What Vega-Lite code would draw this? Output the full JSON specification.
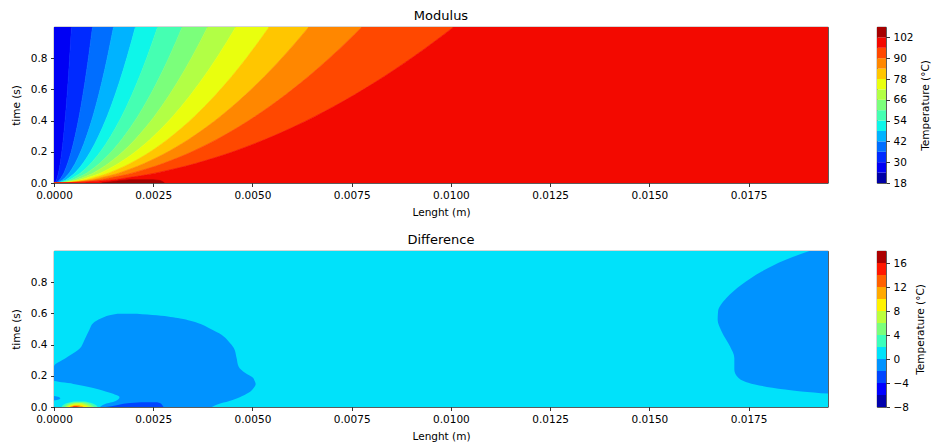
{
"$schema": "https://vega.github.io/schema/vega-lite/v6.json",
"padding": {"left": 10, "top": 9, "right": 0, "bottom": 0},
"autosize": {"type": "pad"},
"background": "white",
"config": {
  "font": "DejaVu Sans",
  "view": {"stroke": "#000", "strokeWidth": 0.8},
  "axis": {"domain": false, "grid": false, "tickColor": "#000", "tickSize": 3.5, "tickWidth": 0.8, "labelColor": "#000", "labelFontSize": 10.5, "labelPadding": 3.5, "labelFlush": false, "labelOverlap": false, "titleFontSize": 10.5, "titleFontWeight": "normal", "titleColor": "#000", "labelFont": "DejaVu Sans", "titleFont": "DejaVu Sans"},
  "title": {"fontSize": 13, "fontWeight": "normal", "color": "#000", "offset": 4, "font": "DejaVu Sans"}
},
"datasets": {
"mod": [
{"lo":24,"t":0,"a":0,"z":0},{"lo":24,"t":0.0025,"a":0,"z":0.000022},{"lo":24,"t":0.01,"a":0,"z":0.000044},{"lo":24,"t":0.04,"a":0,"z":0.000088},{"lo":24,"t":0.09,"a":0,"z":0.000132},{"lo":24,"t":0.16,"a":0,"z":0.000176},{"lo":24,"t":0.25,"a":0,"z":0.00022},{"lo":24,"t":0.36,"a":0,"z":0.000264},{"lo":24,"t":0.49,"a":0,"z":0.000308},{"lo":24,"t":0.64,"a":0,"z":0.000352},{"lo":24,"t":0.81,"a":0,"z":0.000396},{"lo":24,"t":0.999,"a":0,"z":0.00044},
{"lo":30,"t":0,"a":0,"z":0},{"lo":30,"t":0.0025,"a":0.000022,"z":0.0000485},{"lo":30,"t":0.01,"a":0.000044,"z":0.000097},{"lo":30,"t":0.04,"a":0.000088,"z":0.000194},{"lo":30,"t":0.09,"a":0.000132,"z":0.000291},{"lo":30,"t":0.16,"a":0.000176,"z":0.000388},{"lo":30,"t":0.25,"a":0.00022,"z":0.000485},{"lo":30,"t":0.36,"a":0.000264,"z":0.000582},{"lo":30,"t":0.49,"a":0.000308,"z":0.000679},{"lo":30,"t":0.64,"a":0.000352,"z":0.000776},{"lo":30,"t":0.81,"a":0.000396,"z":0.000873},{"lo":30,"t":0.999,"a":0.00044,"z":0.00097},
{"lo":36,"t":0,"a":0,"z":0},{"lo":36,"t":0.0025,"a":0.0000485,"z":0.000075},{"lo":36,"t":0.01,"a":0.000097,"z":0.00015},{"lo":36,"t":0.04,"a":0.000194,"z":0.0003},{"lo":36,"t":0.09,"a":0.000291,"z":0.00045},{"lo":36,"t":0.16,"a":0.000388,"z":0.0006},{"lo":36,"t":0.25,"a":0.000485,"z":0.00075},{"lo":36,"t":0.36,"a":0.000582,"z":0.0009},{"lo":36,"t":0.49,"a":0.000679,"z":0.00105},{"lo":36,"t":0.64,"a":0.000776,"z":0.0012},{"lo":36,"t":0.81,"a":0.000873,"z":0.00135},{"lo":36,"t":0.999,"a":0.00097,"z":0.0015},
{"lo":42,"t":0,"a":0,"z":0},{"lo":42,"t":0.0025,"a":0.000075,"z":0.0001025},{"lo":42,"t":0.01,"a":0.00015,"z":0.000205},{"lo":42,"t":0.04,"a":0.0003,"z":0.00041},{"lo":42,"t":0.09,"a":0.00045,"z":0.000615},{"lo":42,"t":0.16,"a":0.0006,"z":0.00082},{"lo":42,"t":0.25,"a":0.00075,"z":0.001025},{"lo":42,"t":0.36,"a":0.0009,"z":0.00123},{"lo":42,"t":0.49,"a":0.00105,"z":0.001435},{"lo":42,"t":0.64,"a":0.0012,"z":0.00164},{"lo":42,"t":0.81,"a":0.00135,"z":0.001845},{"lo":42,"t":0.999,"a":0.0015,"z":0.00205},
{"lo":48,"t":0,"a":0,"z":0},{"lo":48,"t":0.0025,"a":0.0001025,"z":0.0001305},{"lo":48,"t":0.01,"a":0.000205,"z":0.000261},{"lo":48,"t":0.04,"a":0.00041,"z":0.000522},{"lo":48,"t":0.09,"a":0.000615,"z":0.000783},{"lo":48,"t":0.16,"a":0.00082,"z":0.001044},{"lo":48,"t":0.25,"a":0.001025,"z":0.001305},{"lo":48,"t":0.36,"a":0.00123,"z":0.001566},{"lo":48,"t":0.49,"a":0.001435,"z":0.001827},{"lo":48,"t":0.64,"a":0.00164,"z":0.002088},{"lo":48,"t":0.81,"a":0.001845,"z":0.002349},{"lo":48,"t":0.999,"a":0.00205,"z":0.00261},
{"lo":54,"t":0,"a":0,"z":0},{"lo":54,"t":0.0025,"a":0.0001305,"z":0.0001615},{"lo":54,"t":0.01,"a":0.000261,"z":0.000323},{"lo":54,"t":0.04,"a":0.000522,"z":0.000646},{"lo":54,"t":0.09,"a":0.000783,"z":0.000969},{"lo":54,"t":0.16,"a":0.001044,"z":0.001292},{"lo":54,"t":0.25,"a":0.001305,"z":0.001615},{"lo":54,"t":0.36,"a":0.001566,"z":0.001938},{"lo":54,"t":0.49,"a":0.001827,"z":0.002261},{"lo":54,"t":0.64,"a":0.002088,"z":0.002584},{"lo":54,"t":0.81,"a":0.002349,"z":0.002907},{"lo":54,"t":0.999,"a":0.00261,"z":0.00323},
{"lo":60,"t":0,"a":0,"z":0},{"lo":60,"t":0.0025,"a":0.0001615,"z":0.0001935},{"lo":60,"t":0.01,"a":0.000323,"z":0.000387},{"lo":60,"t":0.04,"a":0.000646,"z":0.000774},{"lo":60,"t":0.09,"a":0.000969,"z":0.001161},{"lo":60,"t":0.16,"a":0.001292,"z":0.001548},{"lo":60,"t":0.25,"a":0.001615,"z":0.001935},{"lo":60,"t":0.36,"a":0.001938,"z":0.002322},{"lo":60,"t":0.49,"a":0.002261,"z":0.002709},{"lo":60,"t":0.64,"a":0.002584,"z":0.003096},{"lo":60,"t":0.81,"a":0.002907,"z":0.003483},{"lo":60,"t":0.999,"a":0.00323,"z":0.00387},
{"lo":66,"t":0,"a":0,"z":0},{"lo":66,"t":0.0025,"a":0.0001935,"z":0.000229},{"lo":66,"t":0.01,"a":0.000387,"z":0.000458},{"lo":66,"t":0.04,"a":0.000774,"z":0.000916},{"lo":66,"t":0.09,"a":0.001161,"z":0.001374},{"lo":66,"t":0.16,"a":0.001548,"z":0.001832},{"lo":66,"t":0.25,"a":0.001935,"z":0.00229},{"lo":66,"t":0.36,"a":0.002322,"z":0.002748},{"lo":66,"t":0.49,"a":0.002709,"z":0.003206},{"lo":66,"t":0.64,"a":0.003096,"z":0.003664},{"lo":66,"t":0.81,"a":0.003483,"z":0.004122},{"lo":66,"t":0.999,"a":0.00387,"z":0.00458},
{"lo":72,"t":0,"a":0,"z":0},{"lo":72,"t":0.0025,"a":0.000229,"z":0.000271},{"lo":72,"t":0.01,"a":0.000458,"z":0.000542},{"lo":72,"t":0.04,"a":0.000916,"z":0.001084},{"lo":72,"t":0.09,"a":0.001374,"z":0.001626},{"lo":72,"t":0.16,"a":0.001832,"z":0.002168},{"lo":72,"t":0.25,"a":0.00229,"z":0.00271},{"lo":72,"t":0.36,"a":0.002748,"z":0.003252},{"lo":72,"t":0.49,"a":0.003206,"z":0.003794},{"lo":72,"t":0.64,"a":0.003664,"z":0.004336},{"lo":72,"t":0.81,"a":0.004122,"z":0.004878},{"lo":72,"t":0.999,"a":0.00458,"z":0.00542},
{"lo":78,"t":0,"a":0,"z":0},{"lo":78,"t":0.0025,"a":0.000271,"z":0.000321},{"lo":78,"t":0.01,"a":0.000542,"z":0.000642},{"lo":78,"t":0.04,"a":0.001084,"z":0.001284},{"lo":78,"t":0.09,"a":0.001626,"z":0.001926},{"lo":78,"t":0.16,"a":0.002168,"z":0.002568},{"lo":78,"t":0.25,"a":0.00271,"z":0.00321},{"lo":78,"t":0.36,"a":0.003252,"z":0.003852},{"lo":78,"t":0.49,"a":0.003794,"z":0.004494},{"lo":78,"t":0.64,"a":0.004336,"z":0.005136},{"lo":78,"t":0.81,"a":0.004878,"z":0.005778},{"lo":78,"t":0.999,"a":0.00542,"z":0.00642},
{"lo":84,"t":0,"a":0,"z":0},{"lo":84,"t":0.0025,"a":0.000321,"z":0.000388},{"lo":84,"t":0.01,"a":0.000642,"z":0.000776},{"lo":84,"t":0.04,"a":0.001284,"z":0.001552},{"lo":84,"t":0.09,"a":0.001926,"z":0.002328},{"lo":84,"t":0.16,"a":0.002568,"z":0.003104},{"lo":84,"t":0.25,"a":0.00321,"z":0.00388},{"lo":84,"t":0.36,"a":0.003852,"z":0.004656},{"lo":84,"t":0.49,"a":0.004494,"z":0.005432},{"lo":84,"t":0.64,"a":0.005136,"z":0.006208},{"lo":84,"t":0.81,"a":0.005778,"z":0.006984},{"lo":84,"t":0.999,"a":0.00642,"z":0.00776},
{"lo":90,"t":0,"a":0,"z":0},{"lo":90,"t":0.0025,"a":0.000388,"z":0.0005035},{"lo":90,"t":0.01,"a":0.000776,"z":0.001007},{"lo":90,"t":0.04,"a":0.001552,"z":0.002014},{"lo":90,"t":0.09,"a":0.002328,"z":0.003021},{"lo":90,"t":0.16,"a":0.003104,"z":0.004028},{"lo":90,"t":0.25,"a":0.00388,"z":0.005035},{"lo":90,"t":0.36,"a":0.004656,"z":0.006042},{"lo":90,"t":0.49,"a":0.005432,"z":0.007049},{"lo":90,"t":0.64,"a":0.006208,"z":0.008056},{"lo":90,"t":0.81,"a":0.006984,"z":0.009063},{"lo":90,"t":0.999,"a":0.00776,"z":0.01007},
{"lo":96,"t":0,"a":0,"z":0.0195},{"lo":96,"t":0.0025,"a":0.0005035,"z":0.0195},{"lo":96,"t":0.01,"a":0.001007,"z":0.0195},{"lo":96,"t":0.04,"a":0.002014,"z":0.0195},{"lo":96,"t":0.09,"a":0.003021,"z":0.0195},{"lo":96,"t":0.16,"a":0.004028,"z":0.0195},{"lo":96,"t":0.25,"a":0.005035,"z":0.0195},{"lo":96,"t":0.36,"a":0.006042,"z":0.0195},{"lo":96,"t":0.49,"a":0.007049,"z":0.0195},{"lo":96,"t":0.64,"a":0.008056,"z":0.0195},{"lo":96,"t":0.81,"a":0.009063,"z":0.0195},{"lo":96,"t":0.999,"a":0.01007,"z":0.0195},
{"lo":102,"t":0,"a":0.0012,"z":0.00278},{"lo":102,"t":0.008,"a":0.00145,"z":0.00274},{"lo":102,"t":0.016,"a":0.0017,"z":0.00266},{"lo":102,"t":0.021,"a":0.0019,"z":0.0025}
],
"diff": [
{"region":"bg","lo":0,"t":0,"a":0,"z":0.0195},{"region":"bg","lo":0,"t":0.999,"a":0,"z":0.0195},
{"region":"blobL","lo":-2,"t":0,"a":0.00116,"z":0.00398},{"region":"blobL","lo":-2,"t":0.02,"a":0.00129,"z":0.00415},{"region":"blobL","lo":-2,"t":0.037,"a":0.00154,"z":0.0044},{"region":"blobL","lo":-2,"t":0.063,"a":0.00165,"z":0.00468},{"region":"blobL","lo":-2,"t":0.091,"a":0.00141,"z":0.0049},{"region":"blobL","lo":-2,"t":0.122,"a":0.00099,"z":0.00503},{"region":"blobL","lo":-2,"t":0.148,"a":0.00049,"z":0.00508},{"region":"blobL","lo":-2,"t":0.169,"a":0,"z":0.00505},{"region":"blobL","lo":-2,"t":0.186,"a":0,"z":0.00502},{"region":"blobL","lo":-2,"t":0.218,"a":0,"z":0.00482},{"region":"blobL","lo":-2,"t":0.26,"a":0,"z":0.00465},{"region":"blobL","lo":-2,"t":0.314,"a":0.0003,"z":0.0046},{"region":"blobL","lo":-2,"t":0.378,"a":0.00066,"z":0.00453},{"region":"blobL","lo":-2,"t":0.42,"a":0.00075,"z":0.0044},{"region":"blobL","lo":-2,"t":0.463,"a":0.00083,"z":0.00422},{"region":"blobL","lo":-2,"t":0.5,"a":0.0009,"z":0.00395},{"region":"blobL","lo":-2,"t":0.538,"a":0.00099,"z":0.00362},{"region":"blobL","lo":-2,"t":0.566,"a":0.00118,"z":0.00318},{"region":"blobL","lo":-2,"t":0.587,"a":0.0014,"z":0.00259},{"region":"blobL","lo":-2,"t":0.597,"a":0.0016,"z":0.00209},
{"region":"dot","lo":-2,"t":0.042,"a":0,"z":0},{"region":"dot","lo":-2,"t":0.048,"a":0,"z":0.00012},{"region":"dot","lo":-2,"t":0.056,"a":0,"z":0.00016},{"region":"dot","lo":-2,"t":0.064,"a":0,"z":0.00012},{"region":"dot","lo":-2,"t":0.07,"a":0,"z":0},
{"region":"blobR","lo":-2,"t":0.086,"a":0.0195,"z":0.0195},{"region":"blobR","lo":-2,"t":0.1,"a":0.01883,"z":0.0195},{"region":"blobR","lo":-2,"t":0.112,"a":0.01842,"z":0.0195},{"region":"blobR","lo":-2,"t":0.144,"a":0.01766,"z":0.0195},{"region":"blobR","lo":-2,"t":0.187,"a":0.01724,"z":0.0195},{"region":"blobR","lo":-2,"t":0.24,"a":0.01714,"z":0.0195},{"region":"blobR","lo":-2,"t":0.314,"a":0.01714,"z":0.0195},{"region":"blobR","lo":-2,"t":0.389,"a":0.01703,"z":0.0195},{"region":"blobR","lo":-2,"t":0.484,"a":0.01682,"z":0.0195},{"region":"blobR","lo":-2,"t":0.559,"a":0.01672,"z":0.0195},{"region":"blobR","lo":-2,"t":0.612,"a":0.01673,"z":0.0195},{"region":"blobR","lo":-2,"t":0.698,"a":0.01694,"z":0.0195},{"region":"blobR","lo":-2,"t":0.783,"a":0.01732,"z":0.0195},{"region":"blobR","lo":-2,"t":0.868,"a":0.01783,"z":0.0195},{"region":"blobR","lo":-2,"t":0.942,"a":0.01842,"z":0.0195},{"region":"blobR","lo":-2,"t":0.999,"a":0.01903,"z":0.0195},
{"region":"bumpB","lo":-4,"t":0,"a":0.0013,"z":0.00276},{"region":"bumpB","lo":-4,"t":0.012,"a":0.00158,"z":0.00273},{"region":"bumpB","lo":-4,"t":0.024,"a":0.00185,"z":0.00268},{"region":"bumpB","lo":-4,"t":0.031,"a":0.0022,"z":0.0026},
{"region":"g2","lo":2,"t":0,"a":0.00019,"z":0.0011},{"region":"g2","lo":2,"t":0.015,"a":0.00024,"z":0.00104},{"region":"g2","lo":2,"t":0.028,"a":0.00035,"z":0.00092},{"region":"g2","lo":2,"t":0.036,"a":0.0005,"z":0.0008},
{"region":"g4","lo":4,"t":0,"a":0.00025,"z":0.00102},{"region":"g4","lo":4,"t":0.012,"a":0.0003,"z":0.00096},{"region":"g4","lo":4,"t":0.024,"a":0.0004,"z":0.00085},{"region":"g4","lo":4,"t":0.03,"a":0.00055,"z":0.00075},
{"region":"g6","lo":6,"t":0,"a":0.0003,"z":0.00094},{"region":"g6","lo":6,"t":0.01,"a":0.00035,"z":0.00088},{"region":"g6","lo":6,"t":0.02,"a":0.00045,"z":0.00078},{"region":"g6","lo":6,"t":0.025,"a":0.00056,"z":0.0007},
{"region":"g8","lo":8,"t":0,"a":0.00035,"z":0.00085},{"region":"g8","lo":8,"t":0.008,"a":0.0004,"z":0.0008},{"region":"g8","lo":8,"t":0.016,"a":0.0005,"z":0.0007},
{"region":"g10","lo":10,"t":0,"a":0.0004,"z":0.00075},{"region":"g10","lo":10,"t":0.006,"a":0.00044,"z":0.0007},{"region":"g10","lo":10,"t":0.011,"a":0.00052,"z":0.00063},
{"region":"g12","lo":12,"t":0,"a":0.00044,"z":0.00066},{"region":"g12","lo":12,"t":0.006,"a":0.0005,"z":0.0006},
{"region":"g14","lo":14,"t":0,"a":0.00047,"z":0.0006},{"region":"g14","lo":14,"t":0.003,"a":0.0005,"z":0.00057}
],
"cbT": [
{"lo":18,"hi":24},{"lo":24,"hi":30},{"lo":30,"hi":36},{"lo":36,"hi":42},{"lo":42,"hi":48},{"lo":48,"hi":54},{"lo":54,"hi":60},{"lo":60,"hi":66},{"lo":66,"hi":72},{"lo":72,"hi":78},{"lo":78,"hi":84},{"lo":84,"hi":90},{"lo":90,"hi":96},{"lo":96,"hi":102},{"lo":102,"hi":108}
],
"cbD": [
{"lo":-8,"hi":-6},{"lo":-6,"hi":-4},{"lo":-4,"hi":-2},{"lo":-2,"hi":0},{"lo":0,"hi":2},{"lo":2,"hi":4},{"lo":4,"hi":6},{"lo":6,"hi":8},{"lo":8,"hi":10},{"lo":10,"hi":12},{"lo":12,"hi":14},{"lo":14,"hi":16},{"lo":16,"hi":18}
]
},
"resolve": {"scale": {"fill": "independent", "stroke": "independent", "x": "independent", "y": "independent"}},
"spacing": 14,
"vconcat": [
{
"resolve": {"scale": {"fill": "independent", "stroke": "independent", "x": "independent", "y": "independent"}},
"spacing": 47,
"hconcat": [
{
 "width": 774, "height": 156,
 "title": {"text": "Modulus"},
 "data": {"name": "mod"},
 "encoding": {
  "y": {"field": "t", "type": "quantitative", "scale": {"domain": [0, 0.999], "nice": false, "zero": false}, "axis": {"title": "time (s)", "values": [0, 0.2, 0.4, 0.6, 0.8], "format": ".1f", "titlePadding": 9}},
  "x": {"field": "a", "type": "quantitative", "stack": null, "scale": {"domain": [0, 0.0195], "nice": false, "zero": false}, "axis": {"title": "Lenght (m)", "values": [0, 0.0025, 0.005, 0.0075, 0.01, 0.0125, 0.015, 0.0175], "format": ".4f", "titlePadding": 7}},
  "x2": {"field": "z"},
  "fill": {"field": "lo", "type": "ordinal", "legend": null, "scale": {"domain": [18,24,30,36,42,48,54,60,66,72,78,84,90,96,102], "range": ["#0000a6","#0000f4","#002aff","#006eff","#00b3ff","#0ef6e9","#45ffb2","#7bff7b","#b2ff45","#e9ff0e","#ffc600","#ff8700","#ff4800","#f30900","#a60000"]}},
  "stroke": {"field": "lo", "type": "ordinal", "legend": null, "scale": {"domain": [18,24,30,36,42,48,54,60,66,72,78,84,90,96,102], "range": ["#0000a6","#0000f4","#002aff","#006eff","#00b3ff","#0ef6e9","#45ffb2","#7bff7b","#b2ff45","#e9ff0e","#ffc600","#ff8700","#ff4800","#f30900","#a60000"]}}
 },
 "layer": [
  {"transform": [{"filter": "datum.lo < 102"}], "mark": {"type": "area", "orient": "horizontal", "interpolate": "monotone", "clip": true, "strokeWidth": 0.6}},
  {"transform": [{"filter": "datum.lo == 102"}], "mark": {"type": "area", "orient": "horizontal", "interpolate": "monotone", "clip": true, "strokeWidth": 0.6}}
 ]
},
{
 "width": 9, "height": 156,
 "data": {"name": "cbT"},
 "mark": {"type": "rect"},
 "encoding": {
  "y": {"field": "lo", "type": "quantitative", "scale": {"domain": [18, 108], "nice": false, "zero": false}, "axis": {"orient": "right", "values": [18, 30, 42, 54, 66, 78, 90, 102], "title": "Temperature (°C)", "titleAngle": 270, "titleBaseline": "top", "titlePadding": 7}},
  "y2": {"field": "hi"},
  "fill": {"field": "lo", "type": "ordinal", "legend": null, "scale": {"domain": [18,24,30,36,42,48,54,60,66,72,78,84,90,96,102], "range": ["#0000a6","#0000f4","#002aff","#006eff","#00b3ff","#0ef6e9","#45ffb2","#7bff7b","#b2ff45","#e9ff0e","#ffc600","#ff8700","#ff4800","#f30900","#a60000"]}}
 }
}
]
},
{
"resolve": {"scale": {"fill": "independent", "stroke": "independent", "x": "independent", "y": "independent"}},
"spacing": 47,
"hconcat": [
{
 "width": 774, "height": 156,
 "title": {"text": "Difference"},
 "data": {"name": "diff"},
 "encoding": {
  "y": {"field": "t", "type": "quantitative", "scale": {"domain": [0, 0.999], "nice": false, "zero": false}, "axis": {"title": "time (s)", "values": [0, 0.2, 0.4, 0.6, 0.8], "format": ".1f", "titlePadding": 9}},
  "x": {"field": "a", "type": "quantitative", "stack": null, "scale": {"domain": [0, 0.0195], "nice": false, "zero": false}, "axis": {"title": "Lenght (m)", "values": [0, 0.0025, 0.005, 0.0075, 0.01, 0.0125, 0.015, 0.0175], "format": ".4f", "titlePadding": 7}},
  "x2": {"field": "z"},
  "fill": {"field": "lo", "type": "ordinal", "legend": null, "scale": {"domain": [-8,-6,-4,-2,0,2,4,6,8,10,12,14,16], "range": ["#0000ac","#0000ff","#0045ff","#0093ff","#00e2fa","#3cffbb","#7bff7b","#bbff3c","#fff200","#ffa900","#ff6100","#ff1800","#ac0000"]}},
  "detail": {"field": "region"}
 },
 "layer": [
  {"transform": [{"filter": {"field": "region", "equal": "bg"}}], "mark": {"type": "area", "orient": "horizontal", "interpolate": "monotone", "clip": true}},
  {"transform": [{"filter": {"field": "region", "oneOf": ["blobL", "blobR", "dot"]}}], "mark": {"type": "area", "orient": "horizontal", "interpolate": "monotone", "clip": true}},
  {"transform": [{"filter": {"field": "region", "oneOf": ["bumpB", "g2"]}}], "mark": {"type": "area", "orient": "horizontal", "interpolate": "monotone", "clip": true}},
  {"transform": [{"filter": {"field": "region", "equal": "g4"}}], "mark": {"type": "area", "orient": "horizontal", "interpolate": "monotone", "clip": true}},
  {"transform": [{"filter": {"field": "region", "equal": "g6"}}], "mark": {"type": "area", "orient": "horizontal", "interpolate": "monotone", "clip": true}},
  {"transform": [{"filter": {"field": "region", "equal": "g8"}}], "mark": {"type": "area", "orient": "horizontal", "interpolate": "monotone", "clip": true}},
  {"transform": [{"filter": {"field": "region", "equal": "g10"}}], "mark": {"type": "area", "orient": "horizontal", "interpolate": "monotone", "clip": true}},
  {"transform": [{"filter": {"field": "region", "equal": "g12"}}], "mark": {"type": "area", "orient": "horizontal", "interpolate": "monotone", "clip": true}},
  {"transform": [{"filter": {"field": "region", "equal": "g14"}}], "mark": {"type": "area", "orient": "horizontal", "interpolate": "monotone", "clip": true}}
 ]
},
{
 "width": 9, "height": 156,
 "data": {"name": "cbD"},
 "mark": {"type": "rect"},
 "encoding": {
  "y": {"field": "lo", "type": "quantitative", "scale": {"domain": [-8, 18], "nice": false, "zero": false}, "axis": {"orient": "right", "values": [-8, -4, 0, 4, 8, 12, 16], "title": "Temperature (°C)", "titleAngle": 270, "titleBaseline": "top", "titlePadding": 7}},
  "y2": {"field": "hi"},
  "fill": {"field": "lo", "type": "ordinal", "legend": null, "scale": {"domain": [-8,-6,-4,-2,0,2,4,6,8,10,12,14,16], "range": ["#0000ac","#0000ff","#0045ff","#0093ff","#00e2fa","#3cffbb","#7bff7b","#bbff3c","#fff200","#ffa900","#ff6100","#ff1800","#ac0000"]}}
 }
}
]
}
]
}
